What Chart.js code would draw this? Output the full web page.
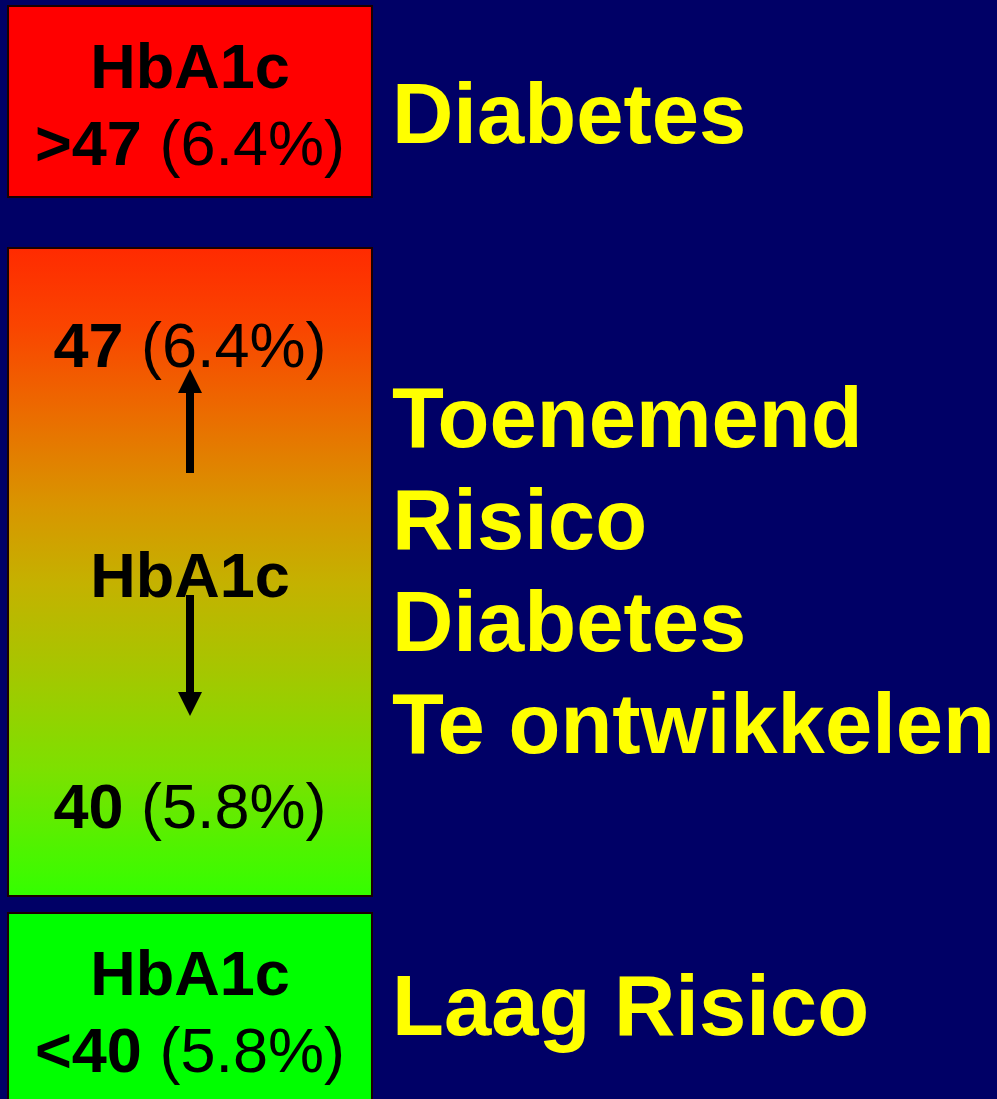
<!DOCTYPE html>
<html>
<head>
<meta charset="utf-8">
<script src="https://cdn.jsdelivr.net/npm/chart.js@4"></script>
<style>
  html, body { margin: 0; padding: 0; background: #000066; overflow: hidden; }
  #wrap { width: 997px; height: 1099px; position: relative; }
</style>
</head>
<body>
<div id="wrap"><canvas id="c"></canvas></div>
<script>
// ---- data ----
const tiers = ['Diabetes', 'Toenemend risico', 'Laag risico'];
// vertical extent of each tier box (top, bottom) in slide layout units
const tierBands = [[5, 198], [247, 897], [912, 1130]];
const slideRange = [0, 1099];
const tierColors = ['#FF0000', 'gradient', '#00FF00'];
const gradientStops = [
  [0.00, '#FF2A00'],
  [0.12, '#FA4400'],
  [0.25, '#EC6A00'],
  [0.40, '#D89600'],
  [0.52, '#C4B200'],
  [0.65, '#A6C600'],
  [0.80, '#7EE000'],
  [1.00, '#33FF00']
];
// text inside the boxes: [bold part, regular part]
const redBoxLines = [['HbA1c', ''], ['>47', ' (6.4%)']];
const midBoxTop = ['47', ' (6.4%)'];
const midBoxMiddle = ['HbA1c', ''];
const midBoxBottom = ['40', ' (5.8%)'];
const greenBoxLines = [['HbA1c', ''], ['<40', ' (5.8%)']];
// labels on the right of each box
const rightLabels = [['Diabetes'], ['Toenemend', 'Risico', 'Diabetes', 'Te ontwikkelen'], ['Laag Risico']];

const FONT = '"Liberation Sans", Arial, Helvetica, sans-serif';

function drawMixed(ctx, parts, cx, baseline, size) {
  const [b, r] = parts;
  ctx.font = 'bold ' + size + 'px ' + FONT;
  const wb = ctx.measureText(b).width;
  ctx.font = size + 'px ' + FONT;
  const wr = r ? ctx.measureText(r).width : 0;
  let x = cx - (wb + wr) / 2;
  ctx.textAlign = 'left';
  ctx.textBaseline = 'alphabetic';
  ctx.fillStyle = '#000000';
  ctx.font = 'bold ' + size + 'px ' + FONT;
  ctx.fillText(b, x, baseline);
  if (r) {
    ctx.font = size + 'px ' + FONT;
    ctx.fillText(r, x + wb, baseline);
  }
}

function arrow(ctx, x, yFrom, yTo, headLen, headW, shaftW) {
  const dir = yTo < yFrom ? -1 : 1;
  const yHeadBase = yTo - dir * headLen;
  ctx.fillStyle = '#000000';
  ctx.fillRect(x - shaftW / 2, Math.min(yFrom, yHeadBase), shaftW, Math.abs(yHeadBase - yFrom));
  ctx.beginPath();
  ctx.moveTo(x, yTo);
  ctx.lineTo(x - headW / 2, yHeadBase);
  ctx.lineTo(x + headW / 2, yHeadBase);
  ctx.closePath();
  ctx.fill();
}

const textPlugin = {
  id: 'slideText',
  afterDatasetsDraw(chart) {
    const ctx = chart.ctx;
    const els = chart.data.datasets.map((d, i) => {
      const el = chart.getDatasetMeta(i).data[0];
      return { x: el.x, width: el.width, top: Math.min(el.y, el.base) };
    });
    const size = 63;
    ctx.save();
    // red box
    let e = els[0];
    drawMixed(ctx, redBoxLines[0], e.x, e.top + 83, size);
    drawMixed(ctx, redBoxLines[1], e.x, e.top + 160, size);
    // gradient box
    e = els[1];
    drawMixed(ctx, midBoxTop, e.x, e.top + 120, size);
    drawMixed(ctx, midBoxMiddle, e.x, e.top + 350, size);
    drawMixed(ctx, midBoxBottom, e.x, e.top + 581, size);
    arrow(ctx, e.x, e.top + 226, e.top + 122, 24, 24, 8);
    arrow(ctx, e.x, e.top + 348, e.top + 469, 24, 24, 8);
    // green box
    e = els[2];
    drawMixed(ctx, greenBoxLines[0], e.x, e.top + 83, size);
    drawMixed(ctx, greenBoxLines[1], e.x, e.top + 160, size);

    // right labels
    ctx.fillStyle = '#FFFF00';
    ctx.font = 'bold 85px ' + FONT;
    ctx.textAlign = 'left';
    ctx.textBaseline = 'alphabetic';
    const lx = els[0].x + els[0].width / 2 + 19;
    ctx.fillText(rightLabels[0][0], lx, els[0].top + 138);
    rightLabels[1].forEach((t, i) => ctx.fillText(t, lx, els[1].top + 200 + i * 102));
    ctx.fillText(rightLabels[2][0], lx, els[2].top + 123);
    ctx.restore();
  }
};

const bgPlugin = {
  id: 'bg',
  beforeDraw(chart) {
    const c = chart.ctx;
    c.save();
    c.fillStyle = '#000066';
    c.fillRect(0, 0, chart.width, chart.height);
    c.restore();
  }
};

function tierFill(i) {
  return (context) => {
    if (tierColors[i] !== 'gradient') return tierColors[i];
    const chart = context.chart;
    if (!chart.chartArea) return '#C4B200';
    const y = chart.scales.y;
    const g = chart.ctx.createLinearGradient(0, y.getPixelForValue(tierBands[i][0]), 0, y.getPixelForValue(tierBands[i][1]));
    gradientStops.forEach(([o, c]) => g.addColorStop(o, c));
    return g;
  };
}

new Chart(document.getElementById('c'), {
  type: 'bar',
  data: {
    labels: ['HbA1c'],
    datasets: tiers.map((t, i) => ({
      label: t,
      data: [tierBands[i]],
      backgroundColor: tierFill(i),
      borderColor: '#1a0000',
      borderWidth: 2,
      borderSkipped: false,
      grouped: false,
      categoryPercentage: 1,
      barPercentage: 0.963
    }))
  },
  options: {
    responsive: true,
    maintainAspectRatio: false,
    animation: false,
    layout: { padding: { left: 0, top: 0, bottom: 0, right: 617 } },
    plugins: { legend: { display: false }, tooltip: { enabled: false } },
    scales: {
      x: { display: false, offset: true },
      y: { display: false, reverse: true, min: slideRange[0], max: slideRange[1] }
    }
  },
  plugins: [bgPlugin, textPlugin]
});
</script>
</body>
</html>
